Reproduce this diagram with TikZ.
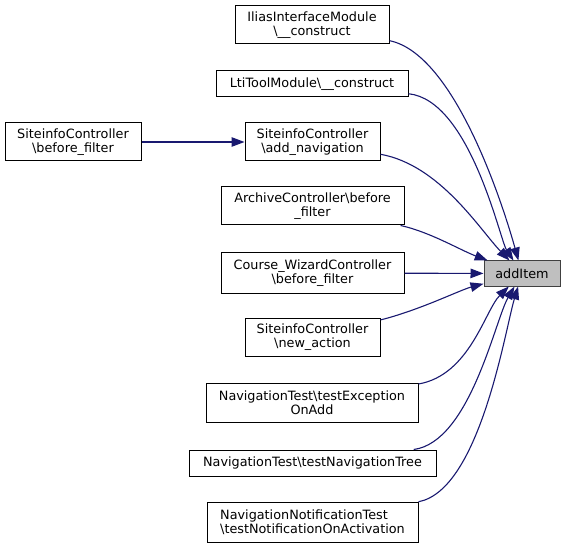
\documentclass[tikz,border=0pt]{standalone}
\usepackage{fontspec}
\setmainfont{DejaVu Sans}
\usetikzlibrary{arrows.meta}
\definecolor{edgecol}{HTML}{191970}
\definecolor{hilite}{HTML}{BFBFBF}
\begin{document}
\begin{tikzpicture}[x=1pt,y=-1pt,
  box/.style={draw=black,line width=1pt,fill=white,align=center,inner sep=0pt,
    font=\fontsize{12.8}{14.5}\selectfont},
  edge/.style={draw=edgecol,line width=1.1pt,{Triangle[length=13pt,width=9.5pt]}-}]
\useasboundingbox (0,0) rectangle (565,548);
\node[box,minimum width=154pt,minimum height=38pt] (ilias) at (312,25) {IliasInterfaceModule\\\textbackslash\_\_construct};
\node[box,minimum width=192pt,minimum height=26pt] (lti) at (312,84) {LtiToolModule\textbackslash\_\_construct};
\node[box,minimum width=135pt,minimum height=38pt] (addnav) at (312.5,142) {SiteinfoController\\\textbackslash add\_navigation};
\node[box,minimum width=136pt,minimum height=38pt] (sbf) at (73,142) {SiteinfoController\\\textbackslash before\_filter};
\node[box,minimum width=183pt,minimum height=38pt] (archive) at (312.5,206) {ArchiveController\textbackslash before\\\_filter};
\node[box,minimum width=183pt,minimum height=40pt] (course) at (312.5,273) {Course\_WizardController\\\textbackslash before\_filter};
\node[box,minimum width=135pt,minimum height=38pt] (newaction) at (312.5,337) {SiteinfoController\\\textbackslash new\_action};
\node[box,minimum width=212pt,minimum height=39pt] (testexc) at (312,402.5) {NavigationTest\textbackslash testException\\OnAdd};
\node[box,minimum width=247pt,minimum height=26pt] (navtree) at (312.5,463) {NavigationTest\textbackslash testNavigationTree};
\node[box,minimum width=211pt,minimum height=40pt,align=left] (notif) at (312.5,522) {NavigationNotificationTest\\\textbackslash testNotificationOnActivation};
\node[box,draw=black!75,fill=hilite,minimum width=76pt,minimum height=25pt] (additem) at (522,273.5) {addItem};

\draw[edge] (additem) .. controls (510,230) and (460,55) .. (ilias);
\draw[edge] (additem) .. controls (500,240) and (470,100) .. (lti);
\draw[edge] (additem) .. controls (480,230) and (440,165) .. (addnav);
\draw[edge] (addnav) -- (sbf);
\draw[edge] (additem) .. controls (460,250) and (430,232) .. (archive);
\draw[edge] (additem) -- (course);
\draw[edge] (additem) .. controls (460,290) and (420,310) .. (newaction);
\draw[edge] (additem) .. controls (485,310) and (470,375) .. (testexc);
\draw[edge] (additem) .. controls (495,320) and (470,442) .. (navtree);
\draw[edge] (additem) .. controls (505,330) and (480,490) .. (notif);
\end{tikzpicture}
\end{document}
